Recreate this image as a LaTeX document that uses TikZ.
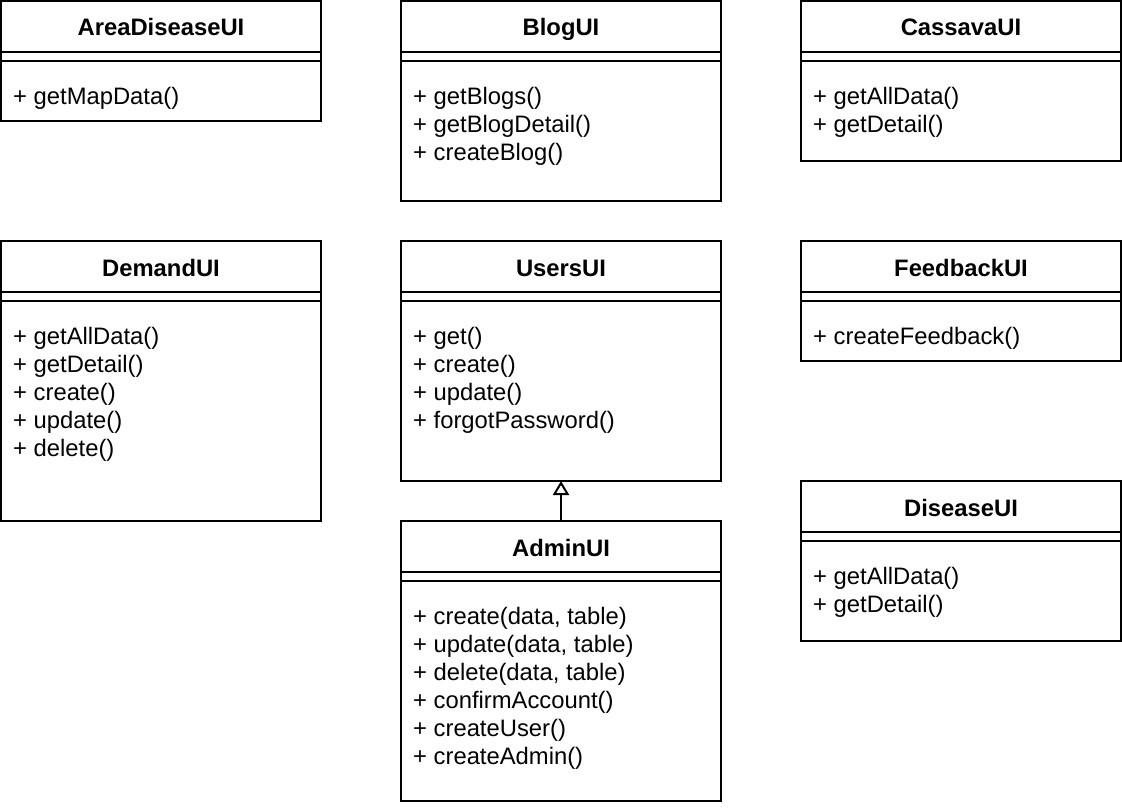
\documentclass[tikz,border=0pt]{standalone}
\usepackage{fontspec}
\setmainfont{Liberation Sans}
\usetikzlibrary{arrows.meta}
\tikzset{
  classbox/.style={draw=black, line width=2pt, fill=white, inner sep=0pt, outer sep=0pt},
  sepline/.style={draw=black, line width=2pt},
  classtitle/.style={font=\bfseries\fontsize{23.8}{28}\selectfont, anchor=base, inner sep=0pt},
  classmethod/.style={font=\fontsize{23.8}{28}\selectfont, anchor=base west, inner sep=0pt},
  inherit/.style={draw=black, line width=2pt, -{Triangle[open, length=14pt, width=16pt]}}
}
\newcommand\umlclass[6]{%
  \node[classbox, anchor=north west, minimum width=320pt, minimum height=#4pt] (#1) at (#2,#3) {};
  \draw[sepline] ([yshift=-51pt]#1.north west) -- ([yshift=-51pt]#1.north east);
  \draw[sepline] ([yshift=-60pt]#1.north west) -- ([yshift=-60pt]#1.north east);
  \node[classtitle] (#1-title) at ([yshift=-35pt]#1.north) {#5};
  \foreach \m [count=\i from 0] in {#6} {%
    \node[classmethod] (#1-m\i) at ([xshift=12pt, yshift={-103pt-28pt*\i}]#1.north west) {\m};
  }%
}
\begin{document}
\begin{tikzpicture}[x=1pt, y=-1pt]
  \useasboundingbox (0,0) rectangle (1122,808);
  \fill[white] (0,0) rectangle (1122,808);
  \umlclass{area}{1}{1}{120}{AreaDiseaseUI}{{+ getMapData()}}
  \umlclass{blog}{401}{1}{200}{BlogUI}{{+ getBlogs()},{+ getBlogDetail()},{+ createBlog()}}
  \umlclass{cassava}{801}{1}{160}{CassavaUI}{{+ getAllData()},{+ getDetail()}}
  \umlclass{demand}{1}{241}{280}{DemandUI}{{+ getAllData()},{+ getDetail()},{+ create()},{+ update()},{+ delete()}}
  \umlclass{users}{401}{241}{240}{UsersUI}{{+ get()},{+ create()},{+ update()},{+ forgotPassword()}}
  \umlclass{feedback}{801}{241}{120}{FeedbackUI}{{+ createFeedback()}}
  \umlclass{admin}{401}{521}{280}{AdminUI}{{+ create(data, table)},{+ update(data, table)},{+ delete(data, table)},{+ confirmAccount()},{+ createUser()},{+ createAdmin()}}
  \umlclass{disease}{801}{481}{160}{DiseaseUI}{{+ getAllData()},{+ getDetail()}}
  \draw[inherit] (admin.north) -- (users.south);
\end{tikzpicture}
\end{document}
